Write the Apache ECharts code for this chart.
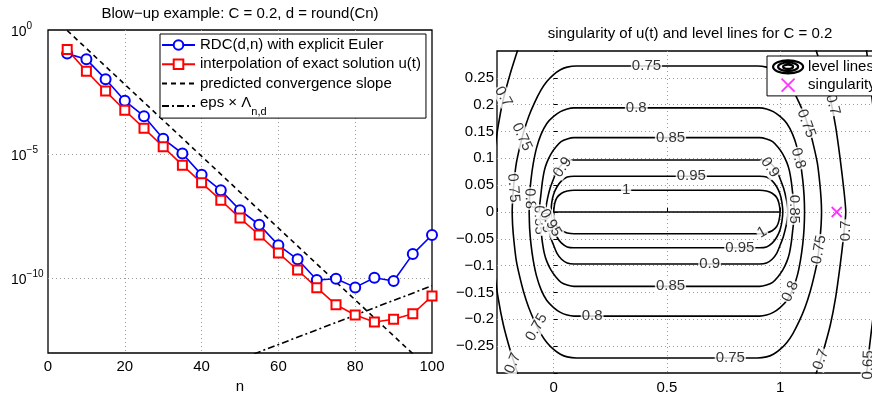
<!DOCTYPE html>
<html><head><meta charset="utf-8">
<script src="https://cdn.jsdelivr.net/npm/echarts@6/dist/echarts.min.js"></script>
<style>html,body{margin:0;padding:0;background:#fff}#c{width:872px;height:393px}</style>
</head><body><div id="c"></div>
<script>
// ---------- left panel data ----------
const nValues = [5,10,15,20,25,30,35,40,45,50,55,60,65,70,75,80,85,90,95,100];
const rdcErrors = [0.112,0.066,0.0105,1.41e-3,3.39e-4,4.17e-5,1.07e-5,1.48e-6,3.55e-7,5.62e-8,1.45e-8,2.19e-9,5.89e-10,8.7e-11,9.8e-11,4.37e-11,1.07e-10,7.94e-11,9.55e-10,5.62e-9];
const interpErrors = [0.166,0.0219,3.47e-3,5.89e-4,1.10e-4,2.0e-5,3.63e-6,7.08e-7,1.41e-7,2.69e-8,5.62e-9,1.07e-9,2.19e-10,4.27e-11,8.71e-12,3.39e-12,1.78e-12,2.29e-12,3.80e-12,1.95e-11];
const slopeN = [5, 95];
const slopeValues = [0.955, 9.3e-14];
const epsN = [50, 100];
const epsValues = [5.6e-14, 5.1e-11];
const leftXTicks = [0,20,40,60,80,100];

// ---------- right panel data (level lines) ----------
const level100 = [[0,0],[0.005,0.016],[0.015,0.027],[0.035,0.035],[0.06,0.039],[0.09,0.0405],[0.91,0.0405],[0.94,0.039],[0.965,0.035],[0.985,0.027],[0.995,0.016],[1,0],[0.995,-0.016],[0.985,-0.027],[0.965,-0.035],[0.94,-0.039],[0.91,-0.0405],[0.09,-0.0405],[0.06,-0.039],[0.035,-0.035],[0.015,-0.027],[0.005,-0.016],[0,0]];
const level100Cut = [[0,0],[1,0]];
const level095 = [[-0.012,0],[-0.008,0.018],[0,0.033],[0.015,0.047],[0.035,0.058],[0.06,0.065],[0.09,0.0666],[0.91,0.0666],[0.94,0.065],[0.965,0.058],[0.985,0.047],[1,0.033],[1.008,0.018],[1.012,0],[1.008,-0.018],[1,-0.033],[0.985,-0.047],[0.965,-0.058],[0.94,-0.065],[0.91,-0.0666],[0.09,-0.0666],[0.06,-0.065],[0.035,-0.058],[0.015,-0.047],[0,-0.033],[-0.008,-0.018],[-0.012,0]];
const level090 = [[-0.034,0],[-0.033,0.01],[-0.027,0.025],[-0.015,0.045],[0,0.062],[0.015,0.077],[0.035,0.088],[0.06,0.095],[0.09,0.097],[0.91,0.097],[0.94,0.095],[0.965,0.088],[0.985,0.077],[1,0.062],[1.015,0.045],[1.027,0.025],[1.033,0.01],[1.034,0],[1.033,-0.01],[1.027,-0.025],[1.015,-0.045],[1,-0.062],[0.985,-0.077],[0.965,-0.088],[0.94,-0.095],[0.91,-0.097],[0.09,-0.097],[0.06,-0.095],[0.035,-0.088],[0.015,-0.077],[0,-0.062],[-0.015,-0.045],[-0.027,-0.025],[-0.033,-0.01],[-0.034,0]];
const level085 = [[-0.063,0],[-0.061,0.015],[-0.056,0.033],[-0.05,0.055],[-0.041,0.077],[-0.03,0.092],[-0.012,0.108],[0.01,0.121],[0.033,0.131],[0.06,0.136],[0.09,0.1385],[0.91,0.1385],[0.94,0.136],[0.967,0.131],[0.99,0.121],[1.012,0.108],[1.03,0.092],[1.041,0.077],[1.05,0.055],[1.056,0.033],[1.061,0.015],[1.063,0],[1.061,-0.015],[1.056,-0.033],[1.05,-0.055],[1.041,-0.077],[1.03,-0.092],[1.012,-0.108],[0.99,-0.121],[0.967,-0.131],[0.94,-0.136],[0.91,-0.1385],[0.09,-0.1385],[0.06,-0.136],[0.033,-0.131],[0.01,-0.121],[-0.012,-0.108],[-0.03,-0.092],[-0.041,-0.077],[-0.05,-0.055],[-0.056,-0.033],[-0.061,-0.015],[-0.063,0]];
const level080 = [[-0.108,0],[-0.106,0.03],[-0.1,0.06],[-0.09,0.09],[-0.075,0.12],[-0.055,0.145],[-0.03,0.165],[0,0.178],[0.03,0.187],[0.06,0.192],[0.09,0.194],[0.91,0.194],[0.94,0.192],[0.97,0.187],[1,0.178],[1.03,0.165],[1.055,0.145],[1.075,0.12],[1.09,0.09],[1.1,0.06],[1.106,0.03],[1.108,0],[1.106,-0.03],[1.1,-0.06],[1.09,-0.09],[1.075,-0.12],[1.055,-0.145],[1.03,-0.165],[1,-0.178],[0.97,-0.187],[0.94,-0.192],[0.91,-0.194],[0.09,-0.194],[0.06,-0.192],[0.03,-0.187],[0,-0.178],[-0.03,-0.165],[-0.055,-0.145],[-0.075,-0.12],[-0.09,-0.09],[-0.1,-0.06],[-0.106,-0.03],[-0.108,0]];
const level075 = [[-0.183,0],[-0.181,0.025],[-0.175,0.055],[-0.165,0.09],[-0.15,0.12],[-0.133,0.148],[-0.11,0.178],[-0.085,0.203],[-0.056,0.227],[-0.03,0.243],[0,0.256],[0.03,0.265],[0.06,0.27],[0.1,0.272],[0.9,0.272],[0.94,0.27],[0.97,0.265],[1,0.256],[1.03,0.243],[1.056,0.227],[1.085,0.203],[1.11,0.178],[1.133,0.148],[1.15,0.12],[1.165,0.09],[1.175,0.055],[1.181,0.025],[1.183,0],[1.181,-0.025],[1.175,-0.055],[1.165,-0.09],[1.15,-0.12],[1.133,-0.148],[1.11,-0.178],[1.085,-0.203],[1.056,-0.227],[1.03,-0.243],[1,-0.256],[0.97,-0.265],[0.94,-0.27],[0.9,-0.272],[0.1,-0.272],[0.06,-0.27],[0.03,-0.265],[0,-0.256],[-0.03,-0.243],[-0.056,-0.227],[-0.085,-0.203],[-0.11,-0.178],[-0.133,-0.148],[-0.15,-0.12],[-0.165,-0.09],[-0.175,-0.055],[-0.181,-0.025],[-0.183,0]];
const level070 = [[-0.145,0.32],[-0.16,0.3],[-0.19,0.26],[-0.222,0.21],[-0.245,0.16],[-0.265,0.1],[-0.282,0.04],[-0.29,0],[-0.282,-0.04],[-0.265,-0.1],[-0.245,-0.16],[-0.222,-0.21],[-0.19,-0.26],[-0.16,-0.3],[-0.145,-0.32],[1.145,-0.32],[1.16,-0.3],[1.19,-0.26],[1.222,-0.21],[1.245,-0.16],[1.265,-0.1],[1.282,-0.04],[1.29,0],[1.282,0.04],[1.265,0.1],[1.245,0.16],[1.222,0.21],[1.19,0.26],[1.16,0.3],[1.145,0.32],[-0.145,0.32]];
const level065 = [[1.376,0.32],[1.385,0.29],[1.395,0.25],[1.415,0.18],[1.435,0.1],[1.445,0],[1.435,-0.1],[1.415,-0.18],[1.395,-0.25],[1.385,-0.29],[1.376,-0.32]];
const singularity = [[1.25, 0]];

const contourLabelText = ['0.75','0.8','0.85','0.95','1','0.75','0.8','0.85','0.9','0.95','1','0.9','0.9','0.75','0.8','0.85','0.75','0.8','0.7','0.7','0.7','0.65','0.7','0.75','0.75','0.8','0.75','0.7','0.85','0.9','0.95'];
const contourLabelX = [0.41,0.365,0.516,0.608,0.32,0.78,0.17,0.516,0.689,0.822,0.92,0.04,0.955,1.115,1.08,1.062,1.172,1.045,1.292,1.232,1.18,1.39,-0.222,-0.14,-0.178,-0.105,-0.075,-0.18,-0.064,-0.036,-0.014];
const contourLabelY = [0.272,0.194,0.1385,0.0666,0.0405,-0.272,-0.194,-0.1385,-0.097,-0.0666,-0.038,0.083,0.083,0.165,0.1,0.005,-0.07,-0.148,-0.035,0.2,-0.275,-0.285,0.215,0.14,0.045,0.025,-0.215,-0.282,-0.015,-0.02,-0.02];
const contourLabelRot = [0,0,0,0,0,0,0,0,0,0,30,55,-55,-70,-75,-90,80,65,90,-75,70,88,-60,-65,-85,-88,60,68,-88,-75,-60];

const rightYTicks = [-0.25,-0.2,-0.15,-0.1,-0.05,0,0.05,0.1,0.15,0.2,0.25];
const rightXTicks = [0,0.5,1];

// ---------- chart ----------
const FONT = 'Liberation Sans, Arial, Helvetica, sans-serif';
const chart = echarts.init(document.getElementById('c'));
const lg = v => Math.log10(v);
const minus = s => String(s).replace('-', '\u2212');

const contourSeries = [level100, level100Cut, level095, level090, level085, level080, level075, level070, level065].map(d => ({
  type: 'line', name: 'level lines', xAxisIndex: 1, yAxisIndex: 1, data: d,
  symbol: 'none', showSymbol: false, smooth: 0.2, silent: true, z: 2,
  lineStyle: { color: '#000', width: 1.6 }, itemStyle: { color: '#000' }
}));

const option = {
  animation: false,
  backgroundColor: '#fff',
  textStyle: { fontFamily: FONT },
  grid: [
    { left: 48, top: 30, width: 384, height: 323, show: true, borderColor: '#000', borderWidth: 1.3, backgroundColor: 'transparent', outerBoundsMode: 'none', containLabel: false },
    { left: 497, top: 51, width: 385, height: 322, show: true, borderColor: '#000', borderWidth: 1.3, backgroundColor: 'transparent', outerBoundsMode: 'none', containLabel: false }
  ],
  xAxis: [
    { type: 'value', gridIndex: 0, min: 0, max: 100, interval: 20,
      name: 'n', nameLocation: 'middle', nameGap: 18,
      nameTextStyle: { fontSize: 15, color: '#000', fontFamily: FONT },
      axisLine: { show: false }, axisTick: { show: false },
      axisLabel: { fontSize: 15, color: '#000', margin: 6, fontFamily: FONT,
        formatter: v => leftXTicks.includes(v) ? String(v) : '' },
      splitLine: { show: true, showMinLine: false, showMaxLine: false, lineStyle: { color: '#9a9a9a', type: [1, 3], width: 1 } } },
    { type: 'value', gridIndex: 1, min: -0.25, max: 1.45, splitNumber: 3,
      axisLine: { show: false },
      axisTick: { show: true, inside: true, length: 4, lineStyle: { color: '#000' } },
      axisLabel: { fontSize: 15, color: '#000', margin: 7, fontFamily: FONT,
        formatter: v => { const r = rightXTicks.find(t => Math.abs(t - v) < 1e-9); return r === undefined ? '' : String(r); } },
      splitLine: { show: true, showMinLine: false, showMaxLine: false, lineStyle: { color: '#9a9a9a', type: [1, 3], width: 1 } } }
  ],
  yAxis: [
    { type: 'value', gridIndex: 0, min: -13, max: 0, splitNumber: 3,
      axisLine: { show: false }, axisTick: { show: false },
      axisLabel: { align: 'left', margin: 37, color: '#000', fontFamily: FONT,
        formatter: v => (Math.abs(v % 5) < 1e-9) ? '{b|10}{sup|' + minus(Math.round(v)) + '}' : '',
        rich: {
          b: { fontSize: 14, lineHeight: 14, verticalAlign: 'bottom', color: '#000', fontFamily: FONT },
          sup: { fontSize: 10, lineHeight: 18, verticalAlign: 'top', color: '#000', fontFamily: FONT }
        } },
      splitLine: { show: true, showMinLine: false, showMaxLine: false, lineStyle: { color: '#9a9a9a', type: [1, 3], width: 1 } } },
    { type: 'value', gridIndex: 1, min: -0.3, max: 0.3, interval: 0.05,
      axisLine: { show: false },
      axisTick: { show: true, inside: true, length: 4, lineStyle: { color: '#000' } },
      axisLabel: { fontSize: 15, color: '#000', margin: 3, fontFamily: FONT,
        formatter: v => { const r = rightYTicks.find(t => Math.abs(t - v) < 1e-9); return r === undefined ? '' : minus(r); } },
      splitLine: { show: true, showMinLine: false, showMaxLine: false, lineStyle: { color: '#9a9a9a', type: [1, 3], width: 1 } } }
  ],
  legend: [
    { left: 160, top: 34, orient: 'vertical', itemWidth: 33, itemHeight: 12, itemGap: 4.2,
      padding: [3.5, 5, 1, 1], backgroundColor: '#fff', borderColor: '#000', borderWidth: 1, borderRadius: 0,
      selectedMode: false, z: 10,
      data: ['RDC(d,n) with explicit Euler', 'interpolation of exact solution u(t)',
        { name: 'predicted convergence slope', itemStyle: { opacity: 0 } },
        { name: 'eps \u00d7 \u039bn,d', itemStyle: { opacity: 0 } }],
      formatter: name => name.indexOf('\u039bn,d') >= 0 ? '{b|eps \u00d7 \u039b}{sub|n,d}' : name,
      textStyle: { fontSize: 15, color: '#000', fontFamily: FONT, padding: [0, 0, 0, 0],
        rich: {
          b: { fontSize: 15, lineHeight: 15, verticalAlign: 'top', color: '#000', fontFamily: FONT },
          sub: { fontSize: 11, lineHeight: 22, verticalAlign: 'bottom', color: '#000', fontFamily: FONT }
        } } },
    { left: 767, top: 56, orient: 'vertical', itemWidth: 30, itemHeight: 13, itemGap: 3.3,
      padding: [3.2, 0, 3.2, 5], backgroundColor: '#fff', borderColor: '#000', borderWidth: 1, borderRadius: 0,
      selectedMode: false, z: 10,
      textStyle: { fontSize: 15, color: '#000', fontFamily: FONT },
      data: [
        { name: 'level lines', icon: 'path://M0,6.5A15,6.5,0,1,1,30,6.5A15,6.5,0,1,1,0,6.5ZM5,6.5A10,4.3,0,1,1,25,6.5A10,4.3,0,1,1,5,6.5ZM10,6.5A5,2.1,0,1,1,20,6.5A5,2.1,0,1,1,10,6.5Z',
          itemStyle: { color: 'transparent', borderColor: '#000', borderWidth: 2.2 } },
        { name: 'singularity', icon: 'path://M0,0L10,10M10,0L0,10',
          itemStyle: { color: 'transparent', borderColor: '#ff00ff', borderWidth: 1.8 } }
      ] }
  ],
  graphic: [
    { type: 'text', x: 240, y: 14, z: 20, style: { text: 'Blow\u2212up example: C = 0.2, d = round(Cn)', align: 'center', verticalAlign: 'middle', fontSize: 15, fontFamily: FONT, fill: '#000' } },
    { type: 'text', x: 690, y: 34, z: 20, style: { text: 'singularity of u(t) and level lines for C = 0.2', align: 'center', verticalAlign: 'middle', fontSize: 15, fontFamily: FONT, fill: '#000' } }
  ],
  series: [
    { type: 'line', name: 'RDC(d,n) with explicit Euler', xAxisIndex: 0, yAxisIndex: 0,
      data: nValues.map((n, i) => [n, lg(rdcErrors[i])]),
      symbol: 'emptyCircle', symbolSize: 10, z: 4,
      lineStyle: { color: '#0000ff', width: 1.6 }, itemStyle: { color: '#0000ff', borderColor: '#0000ff', borderWidth: 1.6 } },
    { type: 'line', name: 'interpolation of exact solution u(t)', xAxisIndex: 0, yAxisIndex: 0,
      data: nValues.map((n, i) => [n, lg(interpErrors[i])]),
      symbol: 'emptyRect', symbolSize: 9, z: 4,
      lineStyle: { color: '#ff0000', width: 1.6 }, itemStyle: { color: '#ff0000', borderColor: '#ff0000', borderWidth: 1.6 } },
    { type: 'line', name: 'predicted convergence slope', xAxisIndex: 0, yAxisIndex: 0,
      data: slopeN.map((n, i) => [n, lg(slopeValues[i])]),
      symbol: 'none', z: 3,
      lineStyle: { color: '#000', width: 1.6, type: [5, 4] }, itemStyle: { color: '#000' } },
    { type: 'line', name: 'eps \u00d7 \u039bn,d', xAxisIndex: 0, yAxisIndex: 0,
      data: epsN.map((n, i) => [n, lg(epsValues[i])]),
      symbol: 'none', z: 3,
      lineStyle: { color: '#000', width: 1.6, type: [7, 3, 2, 3] }, itemStyle: { color: '#000' } },
    ...contourSeries,
    { type: 'scatter', name: 'contour labels', xAxisIndex: 1, yAxisIndex: 1, silent: true, z: 5,
      symbolSize: 1, itemStyle: { color: 'transparent' },
      data: contourLabelText.map((t, i) => ({ name: t, value: [contourLabelX[i], contourLabelY[i]], label: { rotate: contourLabelRot[i] } })),
      label: { show: true, position: 'inside', formatter: '{b}', fontSize: 15, color: '#000', fontFamily: FONT,
        backgroundColor: '#fff', padding: [0, 1, 0, 1] } },
    { type: 'scatter', name: 'singularity', xAxisIndex: 1, yAxisIndex: 1, data: singularity, z: 6,
      symbol: 'path://M0,0L10,10M10,0L0,10', symbolSize: 10,
      itemStyle: { color: 'transparent', borderColor: '#ff00ff', borderWidth: 1.8 } }
  ]
};
chart.setOption(option);
</script>
</body></html>
